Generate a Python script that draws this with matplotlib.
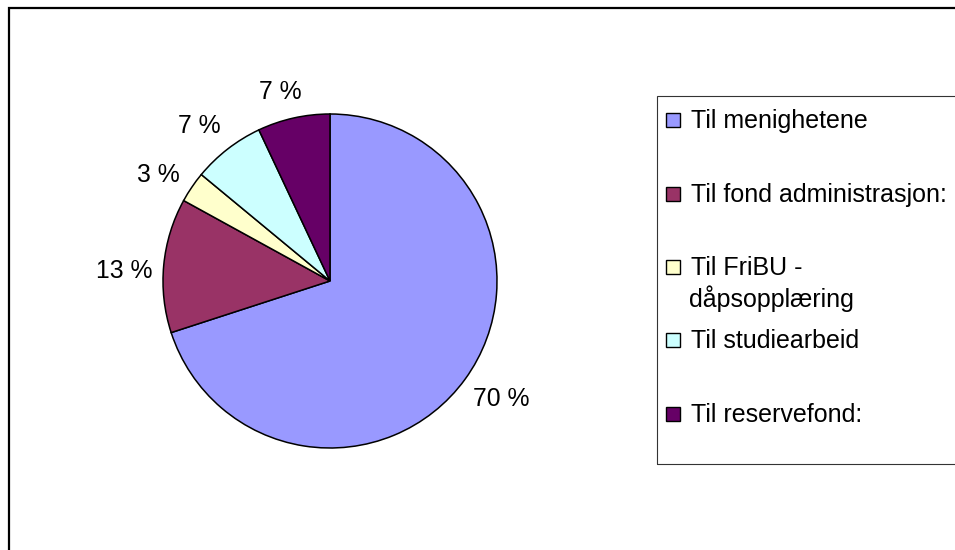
import matplotlib
matplotlib.use("Agg")
import numpy as np
import matplotlib.pyplot as plt
from matplotlib.patches import Rectangle

categories = ["Til menighetene", "Til fond administrasjon:",
              "Til FriBU -\ndåpsopplæring", "Til studiearbeid",
              "Til reservefond:"]
shares = [70, 13, 3, 7, 7]
pct_labels = ["70 %", "13 %", "3 %", "7 %", "7 %"]
colors = ["#9999FF", "#993366", "#FFFFCC", "#CCFFFF", "#660066"]

# layout only: label distance (in radii) and legend text baselines in px
label_dist = [1.24, 1.235, 1.215, 1.22, 1.18]
legend_baselines = [128, 202, 275, 348, 422]

W, H = 955, 550
plt.rcParams["font.family"] = ["Liberation Sans", "DejaVu Sans"]
FS_LABEL = 17.8
FS_LEGEND = 18.0


def fx(px):
    return px / W


def fy(py):
    return 1 - py / H


fig = plt.figure(figsize=(W / 100, H / 100), dpi=100)

# outer chart frame (right and bottom edges lie outside the picture)
fig.patches.append(Rectangle((fx(9), fy(600)), fx(1000), (600 - 8) / H,
                             transform=fig.transFigure, fill=False,
                             edgecolor="black", linewidth=1.6))

# pie
cx, cy, r = 330, 281, 167
ax = fig.add_axes([fx(cx - r), fy(cy + r), 2 * r / W, 2 * r / H])
wedges, texts = ax.pie(shares, colors=colors, startangle=90, counterclock=False,
                       labels=pct_labels,
                       wedgeprops=dict(edgecolor="black", linewidth=1.1),
                       textprops=dict(fontsize=FS_LABEL, color="black"))
cap_half = 0.716 * FS_LABEL * 100 / 72 / 2 / r
for w, t, d in zip(wedges, texts, label_dist):
    ang = np.deg2rad((w.theta1 + w.theta2) / 2 + 2)
    t.set_position((d * np.cos(ang), d * np.sin(ang) - cap_half))
    t.set_horizontalalignment("center")
    t.set_verticalalignment("baseline")
ax.set_xlim(-1, 1)
ax.set_ylim(-1, 1)

# legend box
fig.patches.append(Rectangle((fx(657), fy(464)), fx(1000 - 657), (464 - 96) / H,
                             transform=fig.transFigure, fill=False,
                             edgecolor="#333333", linewidth=0.8))
for label, color, base in zip(categories, colors, legend_baselines):
    fig.patches.append(Rectangle((fx(666), fy(base - 1)), fx(14), 14 / H,
                                 transform=fig.transFigure, facecolor=color,
                                 edgecolor="black", linewidth=1.0))
    for i, line in enumerate(label.split("\n")):
        fig.text(fx(691 - 2 * i), fy(base + 32 * i), line, fontsize=FS_LEGEND,
                 va="baseline", ha="left")

fig.savefig("out.png", dpi=100)
